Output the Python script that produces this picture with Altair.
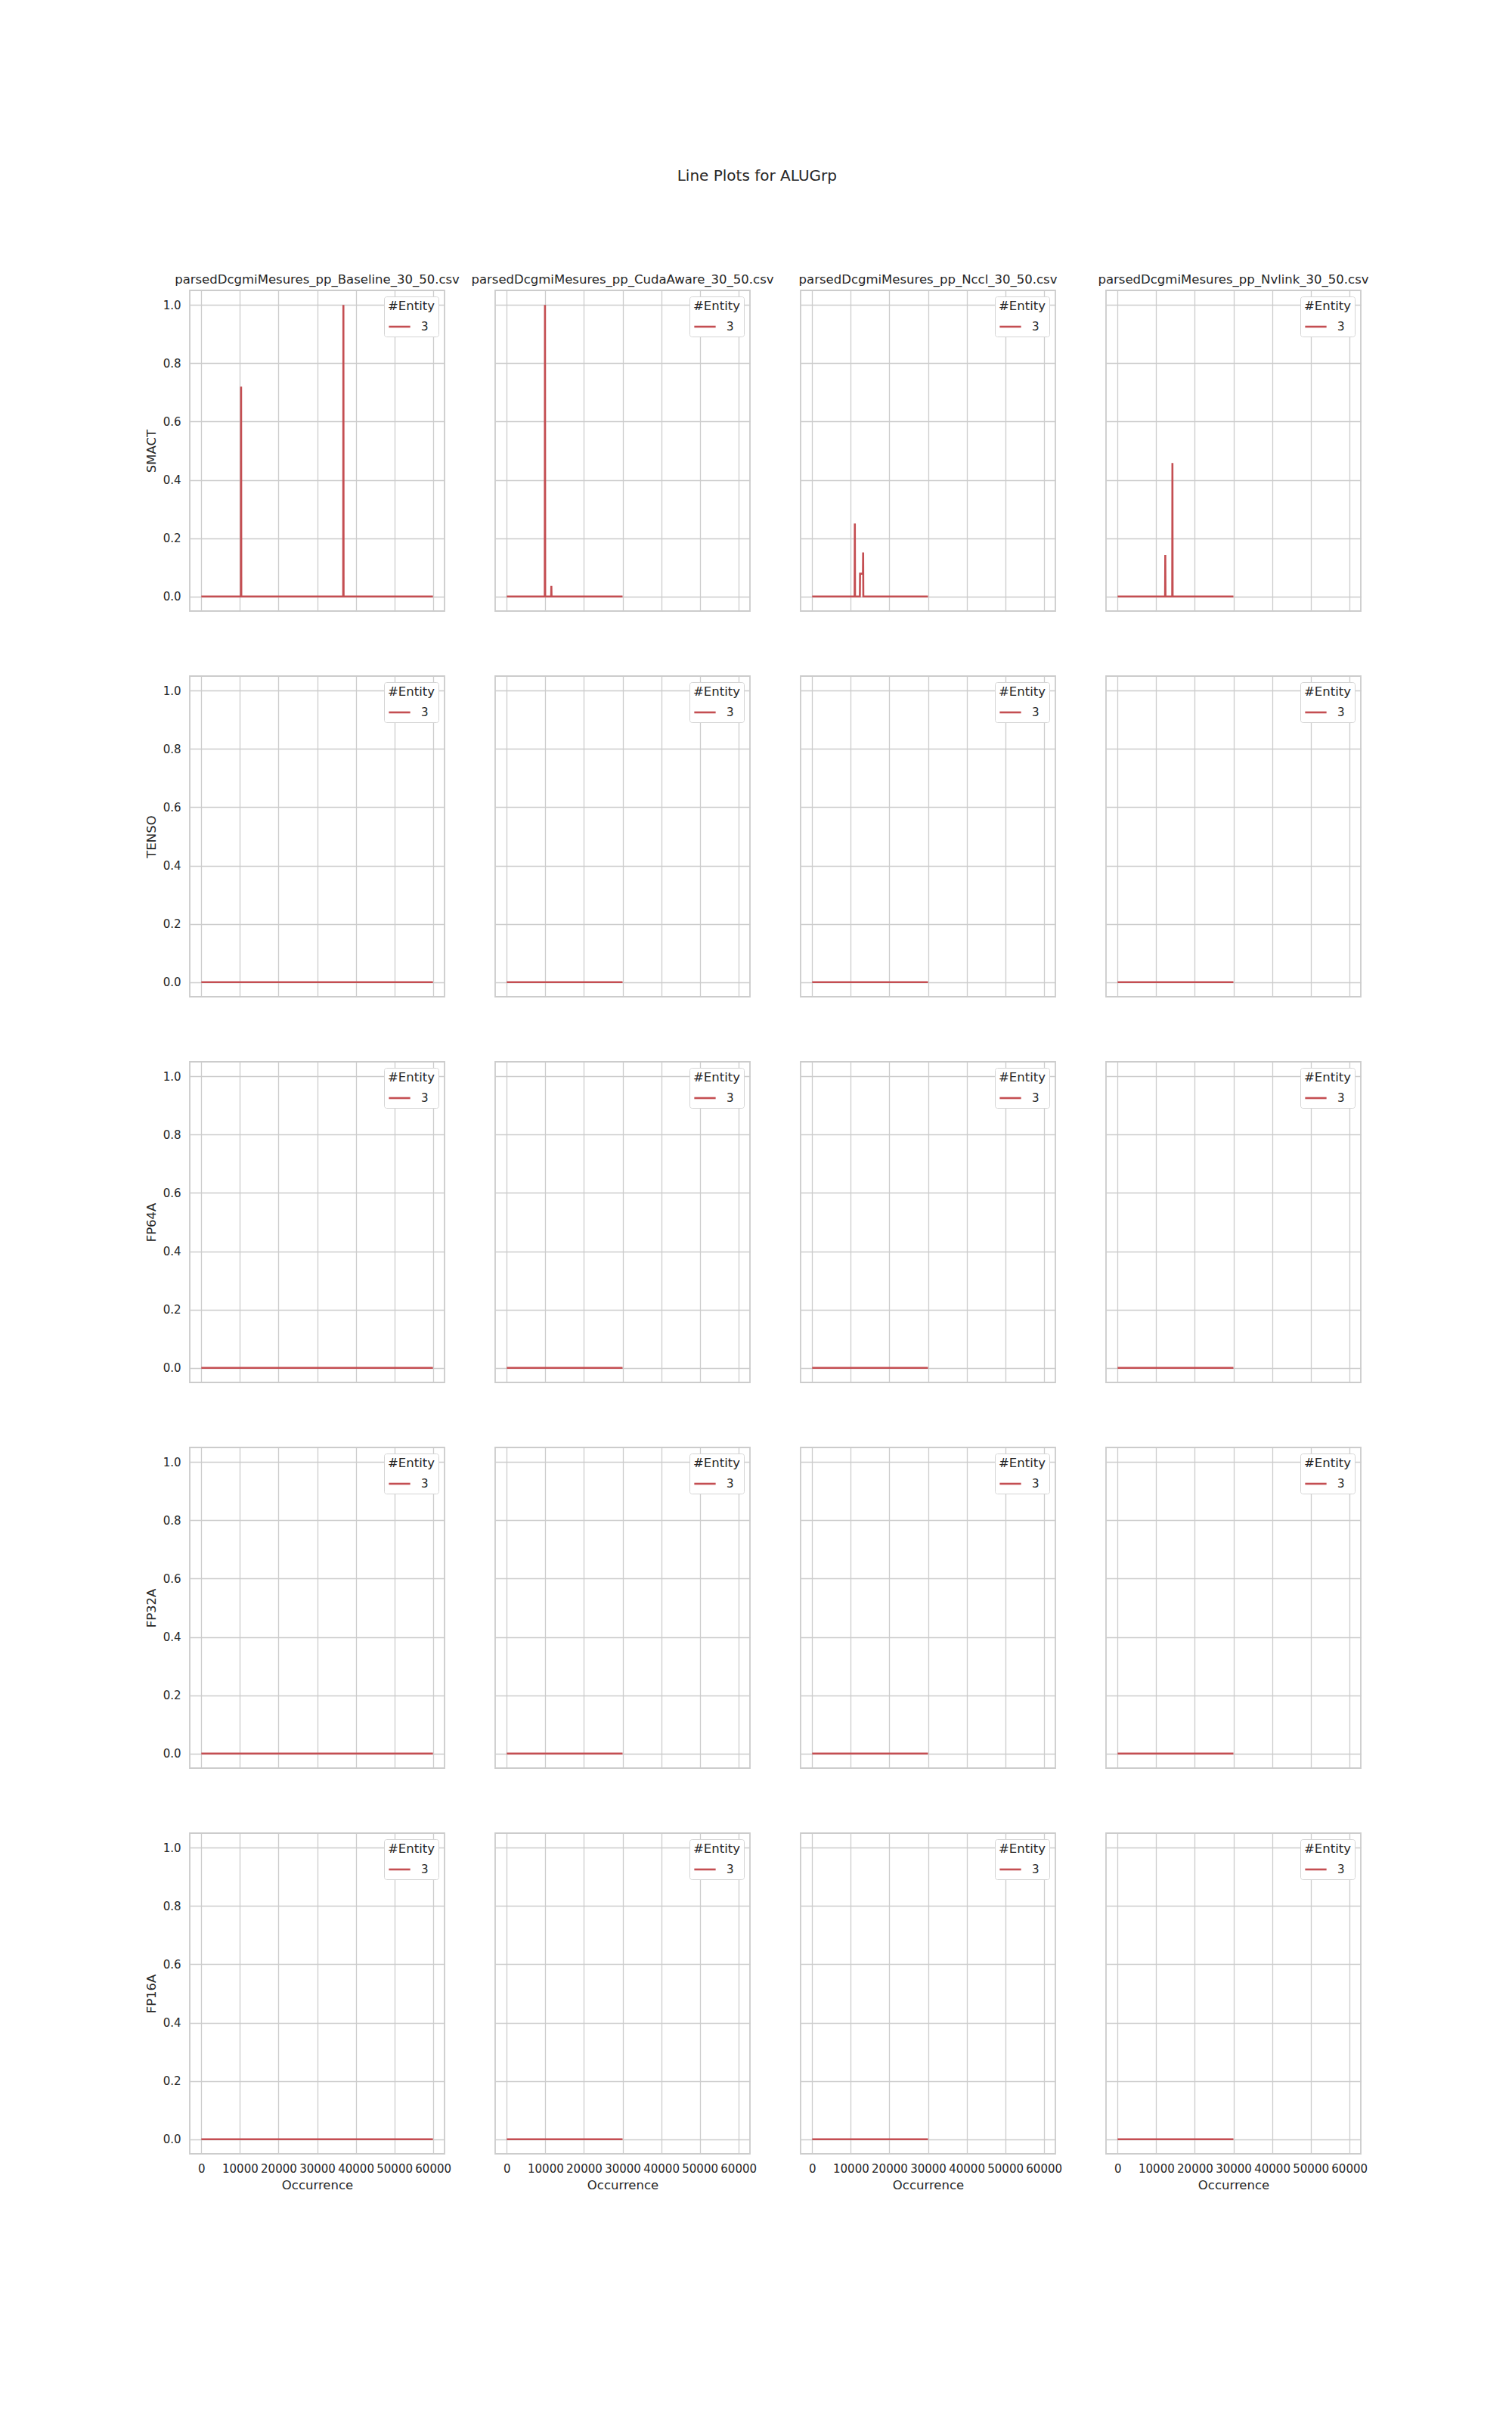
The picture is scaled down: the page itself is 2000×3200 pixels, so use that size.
import altair as alt
import pandas as pd

# ---------------- data ----------------
files = [
    "parsedDcgmiMesures_pp_Baseline_30_50.csv",
    "parsedDcgmiMesures_pp_CudaAware_30_50.csv",
    "parsedDcgmiMesures_pp_Nccl_30_50.csv",
    "parsedDcgmiMesures_pp_Nvlink_30_50.csv",
]
metrics = ["SMACT", "TENSO", "FP64A", "FP32A", "FP16A"]
entity = "3"

# last occurrence index of each file
x_end = [60000, 30000, 30000, 30000]

# SMACT series (occurrence, value) per file
baseline_smact_x = [0, 10250, 10300, 10350, 36750, 36800, 36850, 60000]
baseline_smact_y = [0, 0, 0.72, 0, 0, 1.0, 0, 0]

cudaaware_smact_x = [0, 9850, 9900, 9950, 11500, 11550, 11600, 30000]
cudaaware_smact_y = [0, 0, 1.0, 0, 0, 0.036, 0, 0]

nccl_smact_x = [0, 11000, 11050, 11100, 12350, 12400, 13150, 13200, 13250, 30000]
nccl_smact_y = [0, 0, 0.25, 0, 0, 0.078, 0.078, 0.151, 0, 0]

nvlink_smact_x = [0, 12300, 12350, 12400, 14150, 14200, 14250, 30000]
nvlink_smact_y = [0, 0, 0.142, 0, 0, 0.458, 0, 0]

smact_series = [
    (baseline_smact_x, baseline_smact_y),
    (cudaaware_smact_x, cudaaware_smact_y),
    (nccl_smact_x, nccl_smact_y),
    (nvlink_smact_x, nvlink_smact_y),
]

# TENSO, FP64A, FP32A, FP16A are flat zero for every file
zero_value = 0.0

x_ticks = [0, 10000, 20000, 30000, 40000, 50000, 60000]
y_ticks = [0.0, 0.2, 0.4, 0.6, 0.8, 1.0]

# ---------------- style ----------------
FONT = "DejaVu Sans"
TXT = "#262626"
RED = "#c44e52"
GRID = "#cccccc"


def series_for(metric, col):
    if metric == "SMACT":
        xs, ys = smact_series[col]
    else:
        xs, ys = [0, x_end[col]], [zero_value, zero_value]
    return pd.DataFrame({"Occurrence": xs, "value": ys, "Entity": [entity] * len(xs)})


panels = []
for r, metric in enumerate(metrics):
    for c, fname in enumerate(files):
        df = series_for(metric, c)
        first_col = c == 0
        last_row = r == len(metrics) - 1
        y_axis = alt.Axis(
            values=y_ticks,
            format=".1f",
            labels=first_col,
            title=metric if first_col else None,
            grid=True,
            ticks=False,
            domain=False,
            labelPadding=12,
            titlePadding=7,
        )
        x_axis = alt.Axis(
            values=x_ticks,
            format="d",
            labels=last_row,
            title="Occurrence" if last_row else None,
            grid=True,
            ticks=False,
            domain=False,
            labelPadding=12,
            titlePadding=6,
            labelFlush=False,
            labelOverlap=False,
        )
        props = dict(width=337, height=424)
        if r == 0:
            props["title"] = alt.TitleParams(
                text=fname, fontSize=16.5, font=FONT, color=TXT,
                fontWeight="normal", offset=6, anchor="middle",
            )
        ch = (
            alt.Chart(df)
            .mark_line(strokeWidth=2.6, color=RED)
            .encode(
                x=alt.X("Occurrence:Q", axis=x_axis,
                        scale=alt.Scale(domain=[-3000, 63000], nice=False, zero=False)),
                y=alt.Y("value:Q", axis=y_axis,
                        scale=alt.Scale(domain=[-0.05, 1.05], nice=False, zero=False)),
                color=alt.Color(
                    "Entity:N",
                    scale=alt.Scale(domain=[entity], range=[RED]),
                    legend=alt.Legend(title="#Entity", orient="top-right"),
                ),
            )
            .properties(**props)
        )
        panels.append(ch)

chart = (
    alt.concat(
        *panels,
        columns=4,
        spacing={"row": 86, "column": 67},
        bounds="flush",
    )
    .resolve_legend(color="independent")
    .properties(
        title=alt.TitleParams(
            text="Line Plots for ALUGrp", fontSize=20, font=FONT, color=TXT,
            fontWeight="normal", anchor="middle", offset=118, dx=0,
        ),
        padding={"left": 191, "top": 222, "right": 20, "bottom": 20},
        background="white",
    )
    .configure(font=FONT)
    .configure_view(stroke=GRID, strokeWidth=1.8)
    .configure_axis(
        gridColor=GRID,
        gridWidth=1.3,
        labelFont=FONT,
        labelFontSize=15,
        labelColor=TXT,
        titleFont=FONT,
        titleFontSize=16.5,
        titleFontWeight="normal",
        titleColor=TXT,
    )
    .configure_legend(
        orient="top-right",
        offset=8,
        padding=5,
        fillColor="white",
        strokeColor="#d4d4d4",
        cornerRadius=3,
        titleFont=FONT,
        titleFontSize=16.5,
        titleFontWeight="normal",
        titleColor=TXT,
        titlePadding=3,
        labelFont=FONT,
        labelFontSize=15,
        labelColor=TXT,
        labelOffset=13,
        symbolType="stroke",
        symbolStrokeWidth=2.6,
        symbolSize=800,
        symbolStrokeColor=RED,
    )
)

chart.save("out.html", embed_options={"renderer": "svg", "actions": False})
